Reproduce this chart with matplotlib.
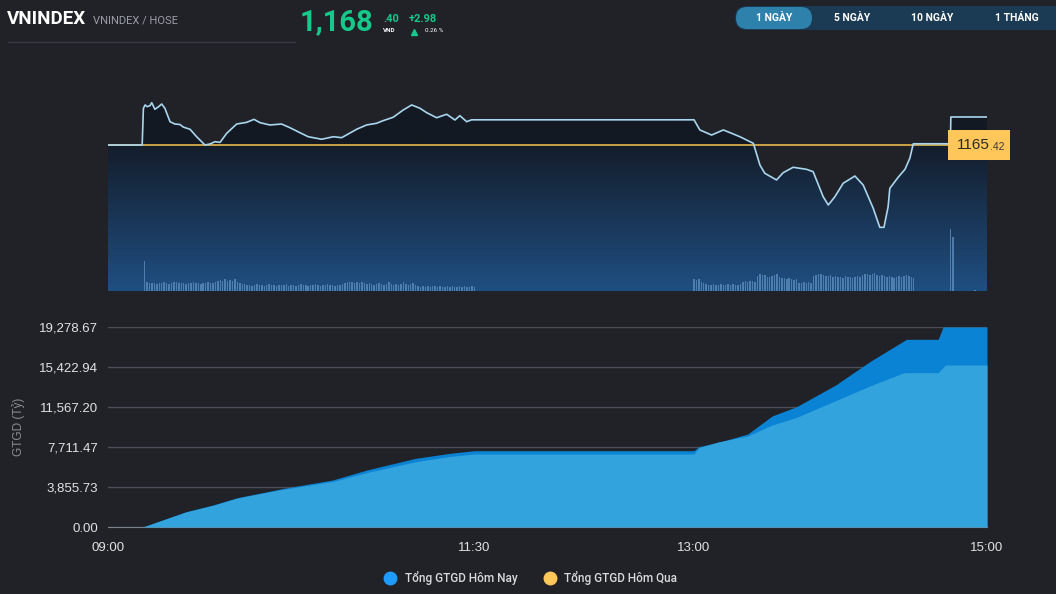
"""
VNINDEX intraday chart (1 ngay) with cumulative trading value below.
"""

import numpy as np
import matplotlib
matplotlib.use("Agg")
import matplotlib.pyplot as plt
from matplotlib.patches import FancyBboxPatch, Rectangle
from matplotlib.lines import Line2D
from matplotlib.ticker import FixedLocator, FuncFormatter
import matplotlib.transforms as mtransforms

# ---- data -----------------------------------------------------------------
# time is minutes after 09:00
REF_PRICE = 1165.42

PRICE_TIME = [0, 14, 14.5, 15.2, 16, 17.2, 17.9, 19.2, 20.5, 22.0, 23.3, 25.4,
              27.4, 29.5, 30.8, 33.6, 36.3, 39.7, 41.8, 43.8, 45.9, 48.6, 52.7,
              56.8, 59.8, 62.2, 66.3, 71.1, 74.5, 78.6, 82.0, 87.5, 92.3, 95.7,
              98.4, 101.8, 105.9, 110.0, 112.7, 116.8, 120.9, 124.4, 127.8,
              130.5, 134.6, 138.7, 142.1, 144.1, 146.9, 148.9, 150, 240, 242.4,
              247.2, 252.0, 256.1, 258.8, 264.3, 267.0, 269.0, 273.8, 276.5,
              280.6, 286.1, 288.8, 292.9, 295.0, 297.7, 301.1, 305.9, 309.3,
              313.4, 316.1, 317.8, 319.5, 320.2, 323.6, 326.4, 328.4, 329.8,
              345.0, 345.2, 360]
PRICE = [1165.42, 1165.42, 1169.32, 1169.68, 1169.50, 1169.60, 1169.92, 1169.22,
         1169.45, 1169.78, 1169.32, 1167.90, 1167.65, 1167.60, 1167.33, 1167.09,
         1166.30, 1165.42, 1165.53, 1165.77, 1165.70, 1166.66, 1167.65, 1167.83,
         1168.15, 1167.80, 1167.55, 1167.65, 1167.26, 1166.73, 1166.30, 1166.03,
         1166.30, 1166.20, 1166.59, 1167.09, 1167.55, 1167.73, 1168.01, 1168.37,
         1169.14, 1169.68, 1169.32, 1168.86, 1168.32, 1168.69, 1168.08, 1168.54,
         1167.90, 1168.10, 1168.10, 1168.10, 1167.02, 1166.48, 1167.02, 1166.59,
         1166.30, 1165.60, 1163.29, 1162.41, 1161.70, 1162.47, 1163.05, 1162.83,
         1162.58, 1159.92, 1159.04, 1159.92, 1161.35, 1162.12, 1161.16, 1158.69,
         1156.66, 1156.66, 1158.86, 1160.81, 1161.98, 1162.83, 1164.01, 1165.55,
         1165.55, 1168.40, 1168.40]

# per-minute volume (relative units), morning 09:15-11:30, afternoon 13:00-14:30
VOL_AM_START = 15
VOL_AM = [30,
          9, 8, 8, 8, 7, 8, 8, 9, 8, 7, 8, 9, 9, 8, 8, 8, 7,
          8, 8, 9, 8, 8, 7, 8, 8, 9, 8, 8, 9, 10,
          11, 10, 12, 10, 11, 10, 12, 9,
          8, 7, 7, 6, 6, 5, 6, 7, 6, 6, 5, 6, 7, 6, 6, 5, 6,
          6, 6, 7, 5, 6, 6, 5, 6, 7, 6, 6, 5, 6, 6, 7, 6, 5, 6, 6, 7, 6, 6, 5, 6, 6, 7,
          8, 9, 9, 9, 8, 9, 8, 9, 8,
          7, 8, 7, 6, 7, 8, 7, 6, 7, 9, 7, 6, 7,
          6, 7, 9, 7, 6, 7, 8, 6,
          5, 4, 5, 4, 5, 4, 5, 5, 4, 5, 4, 4, 5, 4, 5, 4, 4, 5, 4, 5, 4, 4, 5, 4]
VOL_PM_START = 240
VOL_PM = [12, 11, 12, 9, 8,
          7, 6, 6, 7, 6, 6, 7, 6, 6, 7, 6, 7, 6, 6, 7,
          9, 10, 9, 10, 10, 9,
          15, 17, 16, 16, 14, 14, 15, 16, 17, 14, 13,
          13, 12, 13, 12, 11, 12,
          8, 8, 9, 8, 9, 8,
          15, 16, 17, 17, 16, 15, 15, 16, 14, 15,
          14, 14, 13, 15, 14, 14, 13, 14, 15, 14, 16,
          17, 17, 16, 17, 18, 16, 15, 16,
          15, 14, 15, 14, 13, 14, 15, 14, 15, 16, 15, 14, 13]
VOL_ATC_TIME = [345, 346, 355]
VOL_ATC = [62, 54, 1]

# cumulative trading value (ty dong)
GTGD_TIME_TODAY = [0, 14, 15, 32, 43, 53, 72, 92, 106, 126, 140, 150, 240, 242,
                   251, 262, 272, 282, 298, 312, 327, 340, 342, 360]
GTGD_TODAY = [0, 0, 60, 1478, 2120, 2826, 3728, 4530, 5494, 6620, 7100, 7355,
              7355, 7740, 8223, 8964, 10700, 11596, 13687, 15937, 18090, 18090,
              19278.67, 19278.67]
GTGD_TIME_PREV = [0, 14, 15, 32, 43, 53, 72, 92, 106, 126, 140, 150, 240, 242,
                  250, 262, 272, 282, 298, 312, 326, 340, 343, 360]
GTGD_PREV = [0, 0, 60, 1450, 2090, 2790, 3650, 4380, 5250, 6297, 6800, 7036,
             7036, 7650, 8200, 8772, 9832, 10568, 12176, 13591, 14877, 14877,
             15616, 15616]

GTGD_TICKS = [0.00, 3855.73, 7711.47, 11567.20, 15422.94, 19278.67]
TIME_TICKS = [0, 150, 240, 360]
TIME_LABELS = ["09:00", "11:30", "13:00", "15:00"]

LEGEND_LABELS = ["Tổng GTGD Hôm Nay", "Tổng GTGD Hôm Qua"]
PERIOD_BUTTONS = ["1 NGÀY", "5 NGÀY", "10 NGÀY", "1 THÁNG"]

# ---- style ----------------------------------------------------------------
W, H = 1056, 594
BG = "#202228"
GREEN = "#16c98a"
YELLOW = "#ffc65a"
UI_FONT = ["Roboto", "DejaVu Sans"]
AX_FONT = ["Liberation Sans", "DejaVu Sans"]


def fx(x):
    return x / W


def fy(y):
    return 1 - y / H


fig = plt.figure(figsize=(W / 100, H / 100), dpi=100, facecolor=BG)

# overlay in pixel units for header widgets
ui = fig.add_axes([0, 0, 1, 1], zorder=-1)
ui.set_xlim(0, W)
ui.set_ylim(H, 0)
ui.axis("off")

# ---- header ---------------------------------------------------------------
fig.text(fx(7), fy(19), "VNINDEX", family=UI_FONT, fontweight="bold",
         fontsize=13.5, color="white", va="center")
fig.text(fx(93), fy(20), "VNINDEX / HOSE", family=UI_FONT, fontsize=8,
         color="#9a9ea6", va="center")
ui.plot([8, 295], [42, 42], color="#383b42", lw=1)

fig.text(fx(300), fy(22), "1,168", family=UI_FONT, fontweight="bold",
         fontsize=21, color=GREEN, va="center")
fig.text(fx(383), fy(19), ".40", family=UI_FONT, fontweight="bold",
         fontsize=8, color=GREEN, va="center")
fig.text(fx(383), fy(31), "VND", family=UI_FONT, fontweight="bold",
         fontsize=4.5, color="white", va="center")
fig.text(fx(409), fy(19), "+2.98", family=UI_FONT, fontweight="bold",
         fontsize=8, color=GREEN, va="center")
ui.plot([414], [31.5], marker="^", color=GREEN, markersize=5)
fig.text(fx(425), fy(31), "0.26 %", family=UI_FONT, fontsize=4.5,
         color="white", va="center")

# period buttons
ui.add_patch(FancyBboxPatch((735, 6), 340, 24, boxstyle="round,pad=0,rounding_size=12",
                            fc="#1b3a53", ec="none"))
ui.add_patch(FancyBboxPatch((736, 7), 76, 22, boxstyle="round,pad=0,rounding_size=11",
                            fc="#2e81aa", ec="none"))
for label, cx in zip(PERIOD_BUTTONS, [774, 852, 932, 1017]):
    fig.text(fx(cx), fy(18), label, family=UI_FONT, fontweight="bold",
             fontsize=7.5, color="white", ha="center", va="center")

# ---- price chart ----------------------------------------------------------
PX_PER_POINT = 9.4
ax = fig.add_axes([fx(108), fy(291), fx(987) - fx(108), (291 - 90) / H])
ax.set_facecolor("none")
ylo = REF_PRICE - (291 - 145) / PX_PER_POINT
yhi = REF_PRICE + (145 - 90) / PX_PER_POINT
ax.set_xlim(0, 360)
ax.set_ylim(ylo, yhi)
ax.axis("off")

# gradient under the price line: dark above reference, navy -> blue below
levels = np.linspace(ylo, yhi, 300)
top_c = np.array(matplotlib.colors.to_rgb("#141d2b"))
bot_c = np.array(matplotlib.colors.to_rgb("#1f4f82"))
above_c = np.array(matplotlib.colors.to_rgb("#131922"))
frac = np.clip((REF_PRICE - levels) / (REF_PRICE - ylo), 0, 1)[:, None]
grad = top_c * (1 - frac) + bot_c * frac
grad[levels > REF_PRICE] = above_c
img = ax.imshow(grad[:, None, :], extent=[0, 360, ylo, yhi], origin="lower",
                aspect="auto", interpolation="bilinear", zorder=1)
poly = ax.fill_between(PRICE_TIME, PRICE, ylo, color="none", lw=0)
img.set_clip_path(poly.get_paths()[0], transform=ax.transData)

ax.axhline(REF_PRICE, color="#e8b94a", lw=1.2, zorder=3)
ax.plot(PRICE_TIME, PRICE, color="#a9d6ee", lw=1.2, zorder=4)

# volume bars
vax = ax.twinx()
vax.set_ylim(0, 291 - 90)
vax.axis("off")
am_t = np.arange(VOL_AM_START, VOL_AM_START + len(VOL_AM))
pm_t = np.arange(VOL_PM_START, VOL_PM_START + len(VOL_PM))
for t, v in [(am_t, VOL_AM), (pm_t, VOL_PM), (VOL_ATC_TIME, VOL_ATC)]:
    vax.bar(t, v, width=0.6, color="#5f90c0", alpha=0.75, lw=0, zorder=2)

# reference price tag
tag_tr = mtransforms.blended_transform_factory(fig.transFigure, ax.transData)
tag_h = 15 / PX_PER_POINT
fig.add_artist(Rectangle((fx(948), REF_PRICE - tag_h), fx(1010) - fx(948), 2 * tag_h,
                         transform=tag_tr, fc=YELLOW, ec="none", zorder=5))
fig.text(fx(957), REF_PRICE, "1165", transform=tag_tr, family=AX_FONT,
         fontsize=11, color="#2a2a2a", va="center", zorder=6)
fig.text(fx(990), REF_PRICE - 0.25, ".42", transform=tag_tr, family=AX_FONT,
         fontsize=7.5, color="#3a3a3a", va="center", zorder=6)

# ---- cumulative value chart ----------------------------------------------
bx = fig.add_axes([fx(108), fy(527), fx(987) - fx(108), 200 / H])
bx.set_facecolor("none")
bx.set_xlim(0, 360)
bx.set_ylim(0, GTGD_TICKS[-1])
bx.fill_between(GTGD_TIME_TODAY, GTGD_TODAY, 0, color="#0a83d4", lw=0, zorder=2)
bx.fill_between(GTGD_TIME_PREV, GTGD_PREV, 0, color="#33a3dd", lw=0, zorder=3)

bx.yaxis.set_major_locator(FixedLocator(GTGD_TICKS))
bx.yaxis.set_major_formatter(FuncFormatter(lambda v, p: f"{v:,.2f}"))
bx.set_xticks(TIME_TICKS)
bx.set_xticklabels(TIME_LABELS)
bx.grid(axis="y", color="#4b4e56", lw=1, zorder=1)
bx.set_axisbelow(True)
for s in ["top", "right", "left"]:
    bx.spines[s].set_visible(False)
bx.spines["bottom"].set_color("#7c8088")
bx.tick_params(length=0, colors="#e2e2e2", labelsize=9.5)
bx.tick_params(axis="y", pad=7)
bx.tick_params(axis="x", pad=11)
for lab in bx.get_xticklabels() + bx.get_yticklabels():
    lab.set_family(AX_FONT)
bx.set_ylabel("GTGD (Tỷ)", family=AX_FONT, fontsize=8.5, color="#8a8d93",
              labelpad=10)

handles = [Line2D([], [], ls="none", marker="o", markersize=9, color=c)
           for c in ["#1e9bff", YELLOW]]
fig.legend(handles, LEGEND_LABELS, loc="center", bbox_to_anchor=(0.5, fy(578)),
           ncol=2, frameon=False, handletextpad=0.2, columnspacing=1.8,
           prop={"family": UI_FONT, "size": 8.5, "weight": "medium"},
           labelcolor="#d9dadc")

fig.savefig("out.png", dpi=100, facecolor=BG)
